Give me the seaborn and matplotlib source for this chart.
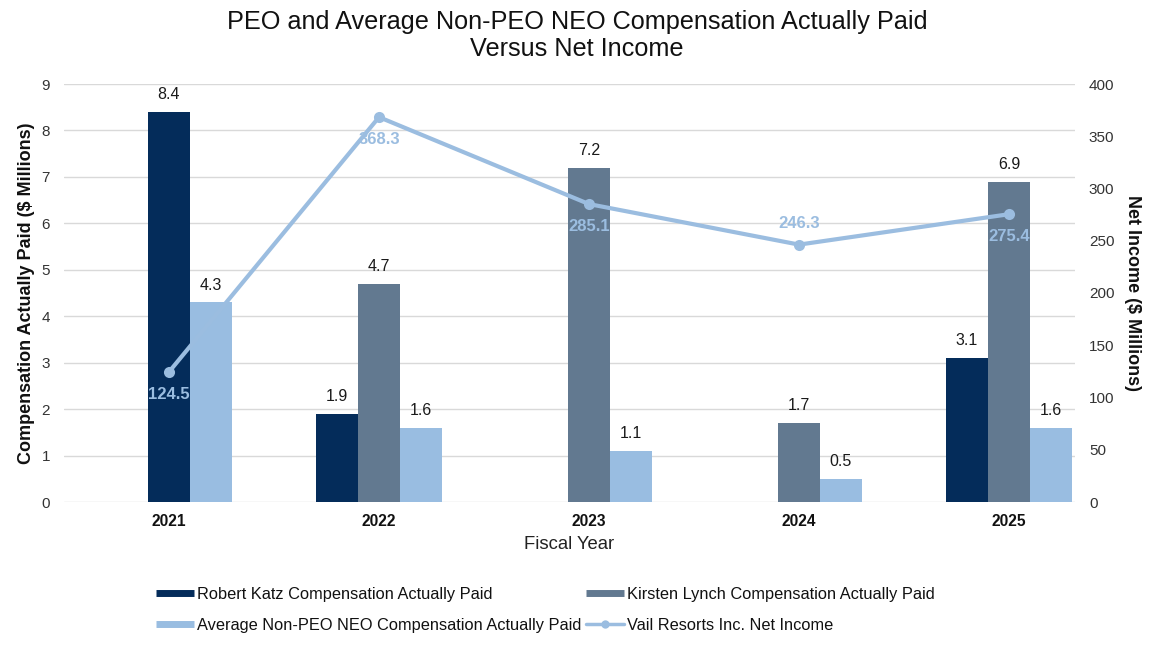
import numpy as np
import pandas as pd
import matplotlib
matplotlib.use("Agg")
import matplotlib.pyplot as plt
from matplotlib.lines import Line2D
import seaborn as sns

# ---------------- data ----------------
years = ["2021", "2022", "2023", "2024", "2025"]
katz = [8.4, 1.9, np.nan, np.nan, 3.1]
lynch = [np.nan, 4.7, 7.2, 1.7, 6.9]
non_peo = [4.3, 1.6, 1.1, 0.5, 1.6]
net_income = [124.5, 368.3, 285.1, 246.3, 275.4]

KATZ = "Robert Katz Compensation Actually Paid"
LYNCH = "Kirsten Lynch Compensation Actually Paid"
NONPEO = "Average Non-PEO NEO Compensation Actually Paid"
NETINC = "Vail Resorts Inc. Net Income"

colors = {KATZ: "#042C5A", LYNCH: "#627990", NONPEO: "#99BDE1"}
line_color = "#9BBDE0"

# ---------------- fonts ----------------
sns.set_theme(style="white")
plt.rcParams["font.family"] = ["Liberation Sans", "DejaVu Sans"]

# ------------- long table (PEO in 2021 fills empty middle slot) -------------
rows = []
for i, y in enumerate(years):
    k, l, n = katz[i], lynch[i], non_peo[i]
    if np.isnan(l) and not np.isnan(k):
        slots = [("left", np.nan, KATZ), ("middle", k, KATZ), ("right", n, NONPEO)]
    else:
        slots = [("left", k, KATZ), ("middle", l, LYNCH), ("right", n, NONPEO)]
    for s, v, name in slots:
        rows.append(dict(year=y, slot=s, value=v, series=name))
df = pd.DataFrame(rows)

W, H = 1159, 654
fig = plt.figure(figsize=(W / 100, H / 100), dpi=100)
L, R, T, B = 64, 1075, 84, 502
ax = fig.add_axes([L / W, 1 - B / H, (R - L) / W, (B - T) / H])

slot_order = ["left", "middle", "right"]
sns.barplot(data=df, x="year", y="value", hue="slot", hue_order=slot_order,
            order=years, width=0.6, ax=ax, legend=False, saturation=1,
            errorbar=None, dodge=True)

# recolor by series and label
offs = {-1: "left", 0: "middle", 1: "right"}
lookup = {(r.year, r.slot): (r.value, r.series) for r in df.itertuples()}
for p in ax.patches:
    h = p.get_height()
    if not np.isfinite(h) or h == 0:
        continue
    cx = p.get_x() + p.get_width() / 2
    ci = int(round(cx))
    so = offs[int(round((cx - ci) / 0.2))]
    v, name = lookup[(years[ci], so)]
    p.set_facecolor(colors[name])
    p.set_edgecolor("none")
    ax.annotate(f"{v:.1f}", (cx, h), xytext=(0, 7), textcoords="offset points",
                ha="center", va="bottom", fontsize=11.5, color="#1a1a1a")

ax.set_ylim(0, 9)
ax.set_yticks(range(0, 10))
ax.grid(axis="y", color="#D9D9D9", linewidth=1)
ax.set_axisbelow(True)
for s in ax.spines.values():
    s.set_visible(False)
ax.tick_params(axis="both", length=0, labelsize=11, colors="#333333")
ax.tick_params(axis="y", pad=10)
ax.tick_params(axis="x", pad=9)
for t in ax.get_xticklabels():
    t.set_fontweight("bold")
    t.set_color("#111111")
    t.set_fontsize(11.2)
ax.set_xlabel("Fiscal Year", fontsize=13.3, color="#222222", labelpad=5)
ax.set_ylabel("Compensation Actually Paid ($ Millions)", fontsize=13,
              fontweight="bold", color="#111111", va="center")
ax.yaxis.set_label_coords((27 - L) / (R - L), 0.5)

# secondary axis: net income line
ax2 = ax.twinx()
xpos = np.arange(len(years))
sns.lineplot(x=xpos, y=net_income, ax=ax2, color=line_color, linewidth=3,
             marker="o", markersize=8, markeredgewidth=0, legend=False)
ax2.set_ylim(0, 400)
ax2.set_yticks(range(0, 401, 50))
for s in ax2.spines.values():
    s.set_visible(False)
ax2.tick_params(axis="y", length=0, labelsize=11, colors="#333333", pad=10)
ax2.grid(False)
ax2.set_ylabel("Net Income ($ Millions)", fontsize=13, fontweight="bold",
               color="#111111", rotation=270, va="center")
ax2.yaxis.set_label_coords((1132 - L) / (R - L), 0.5)
n = len(net_income)
for i, v in enumerate(net_income):
    above = 0 < i < n - 1 and v < net_income[i - 1] and v < net_income[i + 1]
    ax2.annotate(f"{v:.1f}", (i, v), xytext=(0, 10 if above else -11),
                 textcoords="offset points", ha="center",
                 va="bottom" if above else "top", fontsize=12,
                 fontweight="bold", color=line_color)

ax.set_xlim(-0.5, -0.5 + (R - L) / 210)
ax2.set_xlim(ax.get_xlim())

fig.suptitle("PEO and Average Non-PEO NEO Compensation Actually Paid\nVersus Net Income",
             x=577 / W, y=1 - 10 / H, va="top", fontsize=18.2, color="#111111",
             linespacing=1.15)

# legend
h_k = Line2D([], [], color=colors[KATZ], lw=5, solid_capstyle="butt")
h_l = Line2D([], [], color=colors[LYNCH], lw=5, solid_capstyle="butt")
h_n = Line2D([], [], color=colors[NONPEO], lw=5, solid_capstyle="butt")
h_i = Line2D([], [], color=line_color, lw=2.5, marker="o", markersize=6,
             markeredgewidth=0)
fig.legend([h_k, h_n, h_l, h_i], [KATZ, NONPEO, LYNCH, NETINC], ncol=2,
           loc="upper left", bbox_to_anchor=(156 / W, 1 - 587 / H),
           frameon=False, fontsize=11.8, handlelength=2.3, handletextpad=0.2,
           columnspacing=0.3, labelspacing=0.95, borderpad=0, borderaxespad=0,
           labelcolor="#111111")

fig.savefig("out.png", dpi=100)
